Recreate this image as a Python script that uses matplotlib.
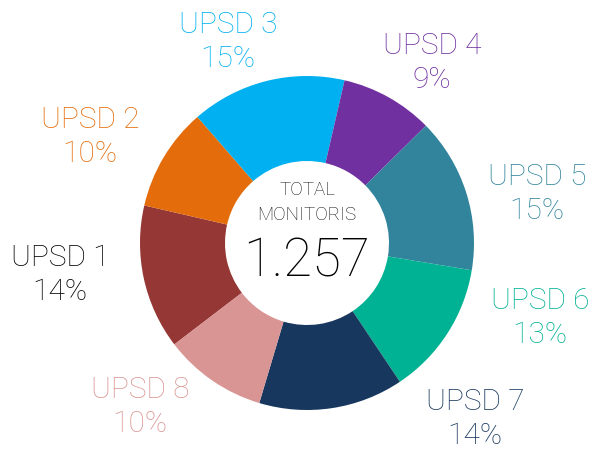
import matplotlib
matplotlib.use("Agg")
import matplotlib.pyplot as plt

# Data
categories = ["UPSD 1", "UPSD 2", "UPSD 3", "UPSD 4", "UPSD 5", "UPSD 6", "UPSD 7", "UPSD 8"]
shares = [14, 10, 15, 9, 15, 13, 14, 10]
total_label = "1.257"

# Style
colors = ["#953735", "#E46C0A", "#00B0F0", "#7030A0", "#31849B", "#00B294", "#17375E", "#D99594"]
label_colors = ["#000000", "#E46C0A", "#00B0F0", "#7030A0", "#31849B", "#00B294", "#17375E", "#D99594"]
# label anchor positions (pixels from top-left)
label_pos = [(60, 275), (90, 137), (228, 42), (432, 63), (537, 194), (540, 318), (475, 419), (140, 407)]

W, H = 605, 450
fig = plt.figure(figsize=(W / 100, H / 100), dpi=100)
ax = fig.add_axes([0, 0, 1, 1])

cx, cy = 307, H - 243
ax.pie(shares, colors=colors, center=(cx, cy), radius=167, startangle=-142.6,
       counterclock=False, wedgeprops=dict(width=85, linewidth=0), frame=True)
ax.set_xlim(0, W)
ax.set_ylim(0, H)
ax.set_aspect("equal")
ax.axis("off")

font = dict(family=["Roboto", "DejaVu Sans"], fontweight="light")
for cat, s, (lx, ly), c in zip(categories, shares, label_pos, label_colors):
    ax.text(lx, H - ly, f"{cat}\n{s}%", ha="center", va="center", color=c,
            fontsize=21.5, linespacing=1.28, **font)

ax.text(cx, H - 190, "TOTAL", ha="center", va="center", fontsize=13.5, color="#111111", **font)
ax.text(cx, H - 215, "MONITORIS", ha="center", va="center", fontsize=13.5, color="#111111", **font)
ax.text(cx, H - 262, total_label, ha="center", va="center", fontsize=38, color="#000000", **font)

fig.savefig("out.png", dpi=100)
